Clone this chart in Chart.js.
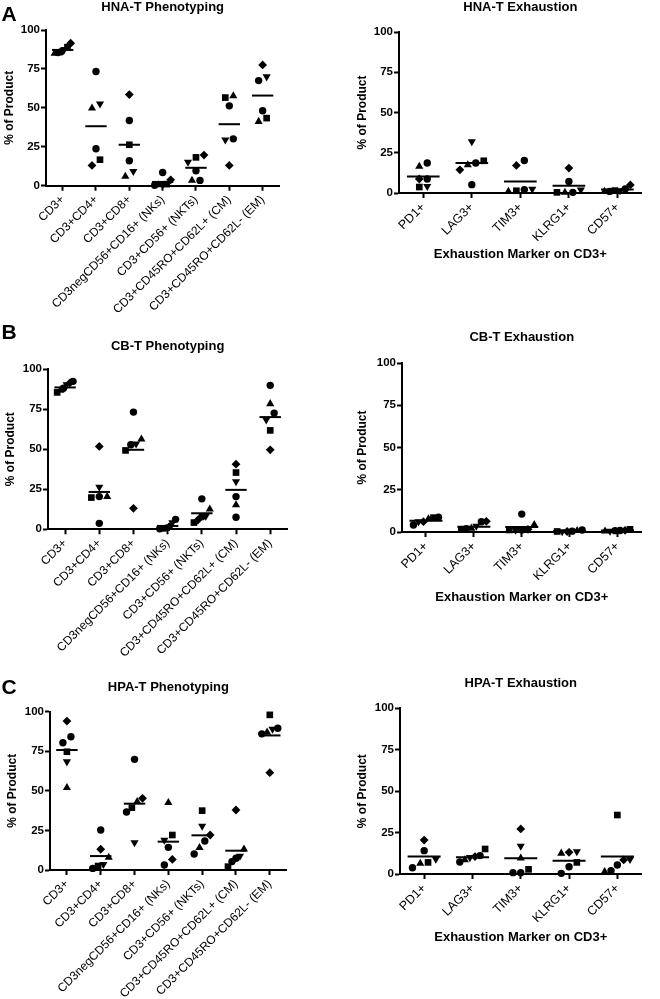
<!DOCTYPE html>
<html><head><meta charset="utf-8">
<script src="https://cdn.jsdelivr.net/npm/chart.js@4.4.1/dist/chart.umd.min.js"></script>
<style>
html,body{margin:0;padding:0;background:#fff;}
body{width:660px;height:999px;overflow:hidden;position:relative;}
canvas{position:absolute;}
</style></head><body>
<canvas id="aL"></canvas><canvas id="aR"></canvas>
<canvas id="bL"></canvas><canvas id="bR"></canvas>
<canvas id="cL"></canvas><canvas id="cR"></canvas>
<script>
// ---------- categories & ticks ----------
const phenoCats = ['CD3+','CD3+CD4+','CD3+CD8+','CD3negCD56+CD16+ (NKs)','CD3+CD56+ (NKTs)','CD3+CD45RO+CD62L+ (CM)','CD3+CD45RO+CD62L- (EM)'];
const exhCats = ['PD1+','LAG3+','TIM3+','KLRG1+','CD57+'];
const yTickValues = [0,25,50,75,100];

// ---------- HNA-T phenotyping (donors: D1 circle, D2 square, D3 triangle, D4 inverted triangle, D5 diamond, D6 circle) ----------
const hnaPhenoD1 = [85.5, 73.3, 41.9, 8.5, 9.6, 51.3, 67.5];
const hnaPhenoD2 = [89, 16.7, 26.3, 1, 18.2, 56.6, 43.4];
const hnaPhenoD3 = [85, 49.8, 6, 0.5, 3.4, 57.7, 41.2];
const hnaPhenoD4 = [87.5, 52.6, 9.2, 0.5, 15.2, 29.5, 70];
const hnaPhenoD5 = [91.5, 13, 58.5, 3.8, 19.7, 13, 77.6];
const hnaPhenoD6 = [86, 23.7, 16, 0.3, 3.4, 30.1, 48.1];
const hnaPhenoMean = [87.2, 38.2, 26.3, 2.4, 11.5, 39.5, 57.9];

// ---------- HNA-T exhaustion ----------
const hnaExhD1 = [18.6, 18.6, 20.2, 7.2, 2.5];
const hnaExhD2 = [3.7, 20, 1.4, 0.4, 1.5];
const hnaExhD3 = [16.5, 17.5, 1, 0.4, 1];
const hnaExhD4 = [4.1, 32, 2.5, 2, 1.5];
const hnaExhD5 = [8.7, 14.4, 17.1, 15.5, 5];
const hnaExhD6 = [8.7, 5.2, 2.1, 0.4, 1];
const hnaExhMean = [10.3, 18.6, 7.2, 4.5, 2.1];

// ---------- CB-T phenotyping ----------
const cbPhenoD1 = [92.3, 20.4, 73.1, 6.2, 19, 20.4, 89.8];
const cbPhenoD2 = [85.4, 19.8, 49.2, 0.6, 4.2, 35.4, 61.7];
const cbPhenoD3 = [86.7, 20.4, 56.2, 0.6, 12.5, 15.2, 78.3];
const cbPhenoD4 = [90.2, 26.3, 53.3, 4.2, 8.3, 29.8, 68.3];
const cbPhenoD5 = [91.3, 51.7, 13.1, 1.7, 5.8, 40.6, 49.6];
const cbPhenoD6 = [88, 3.7, 52.7, 0.3, 7.9, 7.5, 72.5];
const cbPhenoMean = [88.5, 23.3, 49.6, 2.1, 10, 24.6, 70];

// ---------- CB-T exhaustion ----------
const cbExhD1 = [4.1, 6.1, 10.6, 1.2, 0.8];
const cbExhD2 = [8.5, 1.5, 1.2, 0.3, 1.6];
const cbExhD3 = [7.7, 2.2, 4.3, 0.8, 0.5];
const cbExhD4 = [6.1, 3.5, 1.2, 0.3, 0.6];
const cbExhD5 = [6.1, 6.3, 1.6, 0.3, 1];
const cbExhD6 = [8.7, 2, 1.2, 0.5, 0.9];
const cbExhMean = [6.7, 3.1, 3, 0.6, 0.9];

// ---------- HPA-T phenotyping ----------
const hpaPhenoD1 = [84.2, 25.3, 69.9, 14.3, 18.3, 7.4, 89.5];
const hpaPhenoD2 = [74.7, 2.5, 39.4, 22.1, 37.5, 2.1, 98];
const hpaPhenoD3 = [52, 8, 43.2, 42.5, 14.1, 13.1, 87];
const hpaPhenoD4 = [68.4, 3.6, 17.3, 18.9, 27.8, 8.8, 89];
const hpaPhenoD5 = [94.1, 13.1, 45.3, 6.7, 22.1, 37.9, 61.5];
const hpaPhenoD6 = [80.4, 1, 36.6, 3.2, 10.1, 5.3, 86];
const hpaPhenoMean = [75.8, 8.8, 41.9, 17.9, 21.9, 12.2, 85];

// ---------- HPA-T exhaustion ----------
const hpaExhD1 = [14.1, 11.1, 0.8, 4.4, 5.4];
const hpaExhD2 = [7, 15.1, 2.8, 7, 35.6];
const hpaExhD3 = [6.4, 8.5, 9.5, 12.5, 1.4];
const hpaExhD4 = [9, 10, 16.9, 13.5, 8.9];
const hpaExhD5 = [20.5, 10.5, 27.2, 13.1, 8.5];
const hpaExhD6 = [3.8, 7.2, 0.8, 0.4, 2];
const hpaExhMean = [10.5, 10.1, 9.5, 8, 10.5];

// ---------- styles ----------
const FONT = '"Liberation Sans", Arial, Helvetica, sans-serif';
const MARKERS = [
  {style:'circle', r:3.7, rot:0},
  {style:'rect', r:4.7, rot:0},
  {style:'triangle', r:4.7, rot:0},
  {style:'triangle', r:4.7, rot:180},
  {style:'rectRot', r:4.4, rot:0},
  {style:'circle', r:3.7, rot:0}
];

// Prism-like horizontal spreading of overlapping points (offsets in category units)
function spread(values, pxPerUnit, catPx, maxHalf) {
  const idx = values.map((v,i)=>i).sort((a,b)=>values[a]-values[b]);
  const off = values.map(()=>0);
  const thr = 7 / pxPerUnit;
  let cluster = [idx[0]];
  const flush = () => {
    const n = cluster.length;
    if (n > 1) {
      const step = Math.min(8, 2*maxHalf/(n-1));
      cluster.forEach((d,k)=>{ off[d] = (k-(n-1)/2)*step/catPx; });
    }
  };
  for (let k=1;k<idx.length;k++) {
    if (values[idx[k]] - values[idx[k-1]] < thr) cluster.push(idx[k]);
    else { flush(); cluster = [idx[k]]; }
  }
  flush();
  return off;
}

const letterPlugin = {
  id: 'panelLetter',
  afterDraw(chart, args, opts) {
    if (!opts || !opts.text) return;
    const c = chart.ctx;
    c.save();
    c.font = 'bold 21px ' + FONT;
    c.fillStyle = '#000';
    c.textBaseline = 'alphabetic';
    c.textAlign = 'left';
    c.fillText(opts.text, opts.x, opts.y);
    c.restore();
  }
};

function makePanel(id, p) {
  const cv = document.getElementById(id);
  cv.width = p.canvas.w;
  cv.height = p.canvas.h;
  cv.style.width = p.canvas.w + 'px';
  cv.style.height = p.canvas.h + 'px';
  cv.style.left = p.canvas.x + 'px';
  cv.style.top = p.canvas.y + 'px';
  const n = p.cats.length;
  const catPx = (p.area.r - p.area.l) / n;
  const pxPerUnit = (p.area.b - p.area.t) / 100;
  const offsets = p.cats.map((c,ci)=>spread(p.donors.map(d=>d[ci]), pxPerUnit, catPx, p.maxHalf));
  const datasets = p.donors.map((vals, di) => ({
    data: vals.map((v,ci)=>({x: ci + offsets[ci][di], y: v})),
    pointStyle: MARKERS[di].style,
    pointRadius: MARKERS[di].r,
    pointRotation: MARKERS[di].rot,
    backgroundColor: '#000', borderColor: '#000', borderWidth: 0,
    showLine: false, clip: false
  }));
  datasets.push({
    data: p.means.map((v,ci)=>({x: ci, y: v})),
    pointStyle: 'line', pointRadius: p.meanHalf,
    borderColor: '#000', backgroundColor: '#000', borderWidth: 2,
    showLine: false, clip: false
  });
  const canvasBottom = p.canvas.y + p.canvas.h;
  const yW = p.area.l - p.canvas.x;
  const xH = canvasBottom - p.area.b;
  const padR = p.canvas.x + p.canvas.w - p.area.r;
  const tLH = 13 * 1.2;
  const titlePad = {top: p.titleY - p.canvas.y - tLH/2, bottom: p.area.t - p.titleY - tLH/2};
  const yTitlePad = {top: p.yTitleX - p.canvas.x - 12*1.2/2, bottom: 0};
  const xTitle = p.xTitle ? {
    display: true, text: p.xTitle, color: '#000',
    font: {family: FONT, size: 13, weight: 'bold'},
    padding: {top: 0, bottom: canvasBottom - p.xTitleY - tLH/2}
  } : {display: false};

  new Chart(cv, {
    type: 'scatter',
    data: {datasets},
    plugins: [letterPlugin],
    options: {
      responsive: false, maintainAspectRatio: false, animation: false, devicePixelRatio: 1,
      layout: {padding: {left: 0, right: padR, top: 0, bottom: 0}},
      plugins: {
        legend: {display: false}, tooltip: {enabled: false},
        title: {display: true, text: p.title, color: '#000', fullSize: false,
          font: {family: FONT, size: 13, weight: 'bold'}, padding: titlePad},
        panelLetter: p.letter ? {text: p.letter, x: p.letterX - p.canvas.x, y: p.letterY - p.canvas.y} : {}
      },
      scales: {
        x: {
          type: 'linear', min: -0.5, max: n - 0.5,
          afterBuildTicks: ax => { ax.ticks = p.cats.map((c,i)=>({value: i})); },
          afterFit: ax => { ax.height = xH; },
          ticks: {autoSkip: false, minRotation: 45, maxRotation: 45, padding: 2, color: '#000',
            font: {family: FONT, size: p.xFont}, callback: v => p.cats[Math.round(v)]},
          grid: {display: true, drawOnChartArea: false, drawTicks: true, tickLength: 5, tickWidth: 2, tickColor: '#000'},
          border: {display: true, color: '#000', width: 2},
          title: xTitle
        },
        y: {
          min: 0, max: 100,
          afterBuildTicks: ax => { ax.ticks = yTickValues.map(v=>({value: v})); },
          afterFit: ax => { ax.width = yW; },
          ticks: {padding: 1, color: '#000', font: {family: FONT, size: 11.5, weight: 'bold'}},
          grid: {display: true, drawOnChartArea: false, drawTicks: true, tickLength: 5, tickWidth: 2, tickColor: '#000'},
          border: {display: true, color: '#000', width: 2},
          title: {display: true, text: '% of Product', color: '#000',
            font: {family: FONT, size: 12, weight: 'bold'}, padding: yTitlePad}
        }
      }
    }
  });
  cv.style.left = p.canvas.x + 'px';
  cv.style.top = p.canvas.y + 'px';
}

makePanel('aL', {
  canvas: {x: 0, y: -4, w: 300, h: 324}, area: {l: 46, r: 279.3, t: 30, b: 185.7},
  title: 'HNA-T Phenotyping', titleY: 7, yTitleX: 9.5, letter: 'A', letterX: 1.5, letterY: 20.5, xFont: 12,
  cats: phenoCats, donors: [hnaPhenoD1, hnaPhenoD2, hnaPhenoD3, hnaPhenoD4, hnaPhenoD5, hnaPhenoD6],
  means: hnaPhenoMean, meanHalf: 10.7, maxHalf: 8
});
makePanel('aR', {
  canvas: {x: 340, y: -4, w: 320, h: 268}, area: {l: 399, r: 643, t: 32, b: 193},
  title: 'HNA-T Exhaustion', titleY: 7, yTitleX: 362.5, xTitle: 'Exhaustion Marker on CD3+', xTitleY: 254, xFont: 12.5,
  cats: exhCats, donors: [hnaExhD1, hnaExhD2, hnaExhD3, hnaExhD4, hnaExhD5, hnaExhD6],
  means: hnaExhMean, meanHalf: 16.3, maxHalf: 13
});
makePanel('bL', {
  canvas: {x: 0, y: 318, w: 300, h: 346}, area: {l: 48, r: 289.5, t: 369, b: 529.3},
  title: 'CB-T Phenotyping', titleY: 346, yTitleX: 10.8, letter: 'B', letterX: 1.5, letterY: 338.5, xFont: 12,
  cats: phenoCats, donors: [cbPhenoD1, cbPhenoD2, cbPhenoD3, cbPhenoD4, cbPhenoD5, cbPhenoD6],
  means: cbPhenoMean, meanHalf: 10.7, maxHalf: 8
});
makePanel('bR', {
  canvas: {x: 340, y: 318, w: 320, h: 292}, area: {l: 402, r: 651, t: 363, b: 532},
  title: 'CB-T Exhaustion', titleY: 337.5, yTitleX: 362.3, xTitle: 'Exhaustion Marker on CD3+', xTitleY: 597.5, xFont: 12.5,
  cats: exhCats, donors: [cbExhD1, cbExhD2, cbExhD3, cbExhD4, cbExhD5, cbExhD6],
  means: cbExhMean, meanHalf: 16.5, maxHalf: 13
});
makePanel('cL', {
  canvas: {x: 0, y: 648, w: 300, h: 351}, area: {l: 50, r: 286.7, t: 711.7, b: 870},
  title: 'HPA-T Phenotyping', titleY: 687.7, yTitleX: 12.5, letter: 'C', letterX: 1.5, letterY: 693.5, xFont: 12,
  cats: phenoCats, donors: [hpaPhenoD1, hpaPhenoD2, hpaPhenoD3, hpaPhenoD4, hpaPhenoD5, hpaPhenoD6],
  means: hpaPhenoMean, meanHalf: 10.7, maxHalf: 8
});
makePanel('cR', {
  canvas: {x: 340, y: 648, w: 320, h: 301}, area: {l: 400, r: 648, t: 708.3, b: 874},
  title: 'HPA-T Exhaustion', titleY: 683.5, yTitleX: 362.5, xTitle: 'Exhaustion Marker on CD3+', xTitleY: 937, xFont: 12.5,
  cats: exhCats, donors: [hpaExhD1, hpaExhD2, hpaExhD3, hpaExhD4, hpaExhD5, hpaExhD6],
  means: hpaExhMean, meanHalf: 16.5, maxHalf: 13
});
</script>
</body></html>
